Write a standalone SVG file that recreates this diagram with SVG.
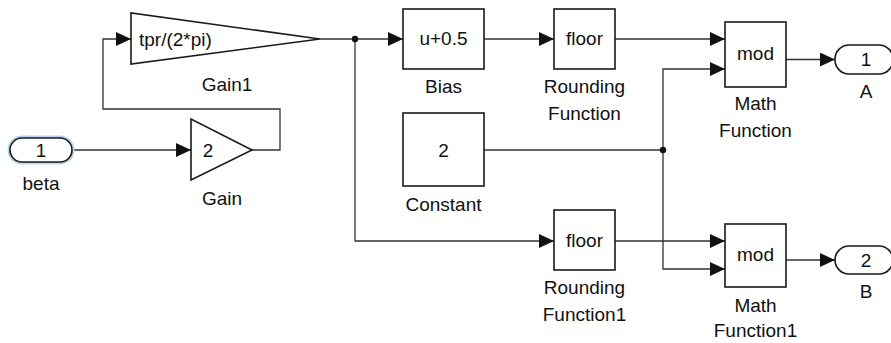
<svg xmlns="http://www.w3.org/2000/svg" width="891" height="343" viewBox="0 0 891 343">
<style>
  .blk{fill:#fff;stroke:#1a1a1a;stroke-width:1.6}
  .ln{fill:none;stroke:#333;stroke-width:1.3}
  text{font-family:"Liberation Sans",Arial,sans-serif;font-size:19px;fill:#111;text-anchor:middle}
  .lft{text-anchor:start}
</style>
<defs>
  <marker id="arr" markerUnits="userSpaceOnUse" markerWidth="16" markerHeight="15" refX="15" refY="7" orient="auto">
    <path d="M0,0 L15,7 L0,14 Z" fill="#111"/>
  </marker>
</defs>
<rect width="891" height="343" fill="#fff"/>

<g id="connectors">
  <path class="ln" d="M72,150 H191" marker-end="url(#arr)"/>
  <path class="ln" d="M252,150 H280 V109 H103 V39 H131" marker-end="url(#arr)"/>
  <path class="ln" d="M320,39 H403" marker-end="url(#arr)"/>
  <path class="ln" d="M355,39 V241 H554" marker-end="url(#arr)"/>
  <path class="ln" d="M484,39 H554" marker-end="url(#arr)"/>
  <path class="ln" d="M615,39 H725" marker-end="url(#arr)"/>
  <path class="ln" d="M484,150 H663"/>
  <path class="ln" d="M663,150 V69 H725" marker-end="url(#arr)"/>
  <path class="ln" d="M663,150 V269 H725" marker-end="url(#arr)"/>
  <path class="ln" d="M615,241 H725" marker-end="url(#arr)"/>
  <path class="ln" d="M786,59.5 H835" marker-end="url(#arr)"/>
  <path class="ln" d="M786,260 H835" marker-end="url(#arr)"/>
  <circle cx="355" cy="39" r="3.2" fill="#111"/>
  <circle cx="663" cy="150" r="3.2" fill="#111"/>
</g>

<g id="beta">
  <rect x="10" y="138" width="62" height="24" rx="12" fill="none" stroke="#b9d3ee" stroke-width="5"/>
  <rect class="blk" x="10" y="138" width="62" height="24" rx="12"/>
  <text x="41" y="157">1</text>
  <text x="41" y="190">beta</text>
</g>

<g id="gain">
  <polygon class="blk" points="191,119 191,180 252,150"/>
  <text x="208" y="157">2</text>
  <text x="222" y="205">Gain</text>
</g>

<g id="gain1">
  <polygon class="blk" points="131,13 131,64 320,39"/>
  <text class="lft" x="139" y="46">tpr/(2*pi)</text>
  <text x="227" y="91">Gain1</text>
</g>

<g id="bias">
  <rect class="blk" x="403" y="9" width="81" height="60"/>
  <text x="443.5" y="45">u+0.5</text>
  <text x="443.5" y="93">Bias</text>
</g>

<g id="rounding">
  <rect class="blk" x="554" y="9" width="61" height="60"/>
  <text x="584.5" y="45">floor</text>
  <text x="584.5" y="93">Rounding</text>
  <text x="584.5" y="120">Function</text>
</g>

<g id="constant">
  <rect class="blk" x="403" y="113" width="81" height="73"/>
  <text x="443.5" y="157">2</text>
  <text x="443.5" y="211">Constant</text>
</g>

<g id="rounding1">
  <rect class="blk" x="554" y="210" width="61" height="60"/>
  <text x="584.5" y="247">floor</text>
  <text x="584.5" y="294">Rounding</text>
  <text x="584.5" y="321">Function1</text>
</g>

<g id="math">
  <rect class="blk" x="725" y="22" width="61" height="65"/>
  <text x="755.5" y="60">mod</text>
  <text x="755.5" y="110">Math</text>
  <text x="755.5" y="137">Function</text>
</g>

<g id="math1">
  <rect class="blk" x="725" y="224" width="61" height="63"/>
  <text x="755.5" y="261">mod</text>
  <text x="755.5" y="312">Math</text>
  <text x="755.5" y="337">Function1</text>
</g>

<g id="outA">
  <rect class="blk" x="835" y="45" width="58" height="29" rx="14"/>
  <text x="866" y="66">1</text>
  <text x="866" y="98">A</text>
</g>

<g id="outB">
  <rect class="blk" x="835" y="246" width="58" height="28" rx="14"/>
  <text x="866" y="267">2</text>
  <text x="866" y="298">B</text>
</g>
</svg>
